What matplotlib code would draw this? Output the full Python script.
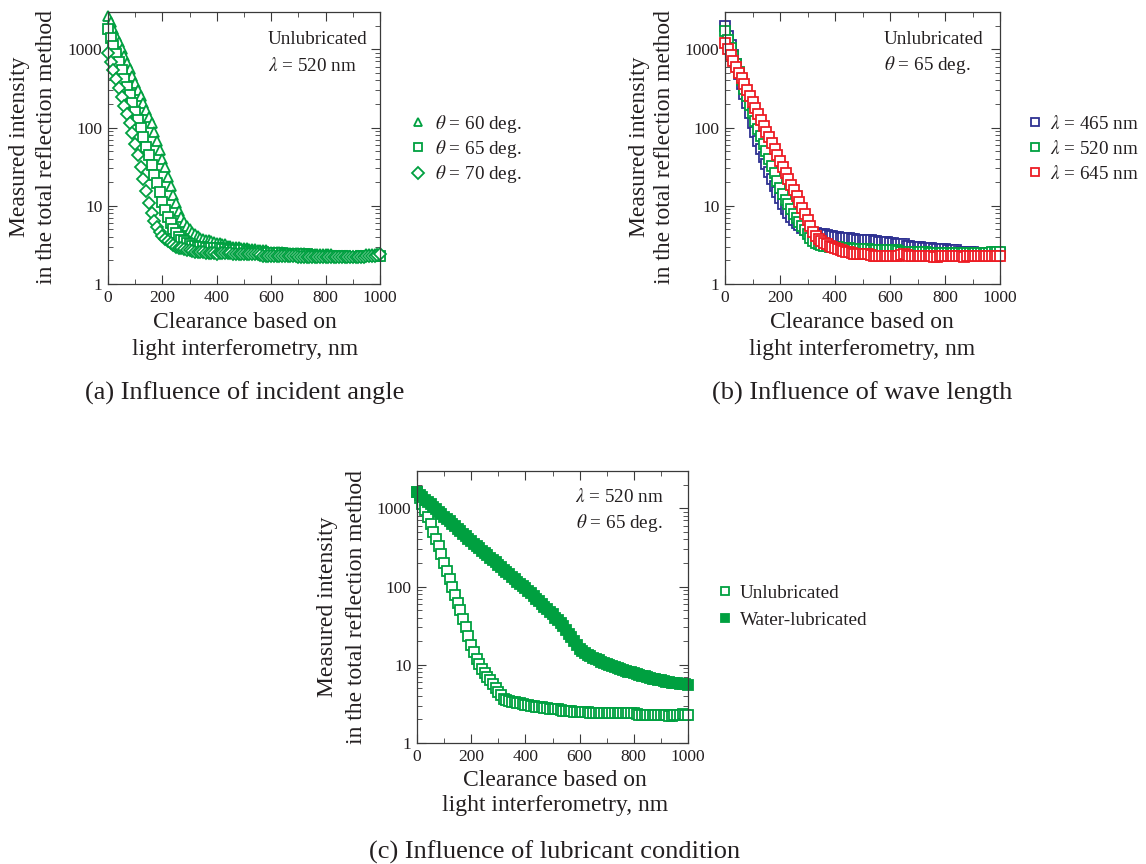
import matplotlib
matplotlib.use("Agg")
import matplotlib.pyplot as plt
from matplotlib.ticker import LogLocator, MultipleLocator, NullFormatter

plt.rcParams['font.family'] = ['Liberation Serif', 'DejaVu Serif']
plt.rcParams['mathtext.fontset'] = 'stix'

# clearance positions, nm (10 nm step)
clearance = list(range(0, 1001, 10))

# (a) incident angle, unlubricated, lambda = 520 nm
angle_60 = [2700, 2215, 1817, 1490, 1223, 1004, 823, 675, 554, 454,
            373, 306, 251, 206, 169, 138, 113, 88, 68, 52,
            40, 31, 23.5, 18, 13.9, 10.7, 8.6, 7.2, 6.2, 5.5,
            5.0, 4.6, 4.3, 4.1, 3.9, 3.8, 3.7, 3.6, 3.5, 3.4, 3.35,
            3.3, 3.2, 3.2, 3.1, 3.1, 3.0, 3.0, 3.0, 2.9, 2.9,
            2.9, 2.8, 2.8, 2.8, 2.7, 2.7, 2.7, 2.7, 2.6, 2.6,
            2.6, 2.6, 2.6, 2.6, 2.5, 2.5, 2.5, 2.5, 2.5, 2.5,
            2.5, 2.5, 2.4, 2.4, 2.4, 2.4, 2.4, 2.4, 2.4, 2.4,
            2.4, 2.4, 2.3, 2.3, 2.3, 2.3, 2.3, 2.3, 2.3, 2.3,
            2.3, 2.3, 2.3, 2.3, 2.4, 2.4, 2.4, 2.4, 2.4, 2.4]
angle_65 = [1800, 1413, 1109, 871, 684, 537, 422, 331, 260, 204,
            160, 126, 99, 75, 57, 44, 33, 25, 19.4, 14.8,
            11.2, 8.8, 7.2, 6.0, 5.1, 4.5, 4.0, 3.7, 3.5, 3.3,
            3.2, 3.1, 3.05, 3.0, 3.0, 2.95, 2.9, 2.9, 2.9, 2.85, 2.85,
            2.85, 2.8, 2.8, 2.8, 2.75, 2.7, 2.7, 2.7, 2.7, 2.7,
            2.65, 2.6, 2.6, 2.6, 2.6, 2.6, 2.55, 2.5, 2.5, 2.5,
            2.5, 2.5, 2.5, 2.5, 2.45, 2.4, 2.4, 2.4, 2.4, 2.4,
            2.4, 2.4, 2.4, 2.35, 2.3, 2.3, 2.3, 2.3, 2.3, 2.3,
            2.3, 2.3, 2.3, 2.3, 2.3, 2.3, 2.25, 2.2, 2.2, 2.2,
            2.2, 2.2, 2.25, 2.3, 2.3, 2.3, 2.3, 2.3, 2.3, 2.3]
angle_70 = [900, 695, 537, 415, 321, 248, 191, 148, 114, 86,
            62, 44, 31, 22, 15.5, 11, 8.2, 6.4, 5.3, 4.6,
            4.1, 3.8, 3.5, 3.3, 3.15, 3.0, 2.9, 2.85, 2.8, 2.75,
            2.7, 2.65, 2.6, 2.6, 2.55, 2.55, 2.5, 2.5, 2.5, 2.5, 2.45,
            2.5, 2.5, 2.5, 2.5, 2.5, 2.45, 2.4, 2.4, 2.4, 2.4,
            2.4, 2.4, 2.4, 2.4, 2.4, 2.35, 2.3, 2.3, 2.3, 2.3,
            2.3, 2.3, 2.3, 2.3, 2.3, 2.3, 2.3, 2.3, 2.25, 2.2,
            2.2, 2.2, 2.2, 2.2, 2.2, 2.2, 2.2, 2.2, 2.2, 2.2,
            2.2, 2.2, 2.2, 2.2, 2.2, 2.2, 2.2, 2.2, 2.2, 2.2,
            2.2, 2.2, 2.2, 2.2, 2.25, 2.3, 2.3, 2.3, 2.35, 2.4]

# (b) wavelength, unlubricated, theta = 65 deg
wl_465 = [2000, 1500, 1130, 850, 640, 480, 360, 270, 203, 152,
          115, 88, 68, 53, 42, 34, 27, 22, 18, 15,
          12.5, 10.6, 9.0, 8.0, 7.2, 6.5, 6.0, 5.6, 5.2, 4.9,
          4.7, 4.6, 4.5, 4.5, 4.4, 4.4, 4.3, 4.2, 4.1, 4.1, 4.0,
          4.0, 3.9, 3.9, 3.9, 3.9, 3.8, 3.8, 3.7, 3.7, 3.7,
          3.7, 3.6, 3.6, 3.5, 3.5, 3.4, 3.4, 3.4, 3.4, 3.3,
          3.3, 3.2, 3.2, 3.2, 3.2, 3.1, 3.1, 3.0, 3.0, 3.0,
          3.0, 2.9, 2.9, 2.9, 2.9, 2.8, 2.8, 2.8, 2.8, 2.8,
          2.7, 2.7, 2.7, 2.7, 2.6, 2.6, 2.6, 2.6, 2.6, 2.6,
          2.5, 2.5, 2.5, 2.5, 2.5, 2.5, 2.5, 2.5, 2.5, 2.5]
wl_520 = [1700, 1330, 1050, 830, 650, 510, 400, 315, 250, 197,
          155, 122, 97, 78, 62, 50, 40, 32, 26, 21,
          17, 14.2, 12, 10.4, 9.0, 7.9, 7.0, 6.2, 5.5, 4.9,
          4.3, 3.9, 3.5, 3.3, 3.2, 3.15, 3.1, 3.05, 3.0, 3.0, 3.0,
          2.95, 2.9, 2.9, 2.9, 2.85, 2.8, 2.8, 2.8, 2.8, 2.8,
          2.8, 2.8, 2.75, 2.7, 2.7, 2.7, 2.7, 2.7, 2.7, 2.7,
          2.7, 2.7, 2.65, 2.6, 2.6, 2.6, 2.6, 2.6, 2.6, 2.6,
          2.6, 2.6, 2.55, 2.5, 2.5, 2.5, 2.5, 2.5, 2.5, 2.5,
          2.5, 2.5, 2.5, 2.5, 2.5, 2.5, 2.5, 2.5, 2.5, 2.5,
          2.5, 2.5, 2.5, 2.5, 2.5, 2.5, 2.55, 2.55, 2.55, 2.55]
wl_645 = [1200, 1010, 850, 715, 600, 505, 425, 357, 300, 252,
          212, 178, 150, 126, 106, 89, 75, 63, 53, 44.6,
          37.5, 31.5, 26.5, 22.3, 18.7, 15.7, 13.2, 11.1, 9.4, 7.9,
          6.6, 5.5, 4.6, 4.1, 3.8, 3.5, 3.3, 3.2, 3.1, 3.0, 2.9,
          2.8, 2.7, 2.65, 2.6, 2.55, 2.5, 2.45, 2.4, 2.4, 2.4,
          2.4, 2.4, 2.35, 2.3, 2.3, 2.3, 2.3, 2.3, 2.3, 2.3,
          2.3, 2.3, 2.3, 2.35, 2.4, 2.35, 2.3, 2.3, 2.3, 2.3,
          2.3, 2.3, 2.3, 2.3, 2.25, 2.2, 2.2, 2.25, 2.3, 2.3,
          2.3, 2.3, 2.3, 2.3, 2.3, 2.25, 2.2, 2.25, 2.3, 2.3,
          2.3, 2.3, 2.3, 2.3, 2.3, 2.3, 2.3, 2.3, 2.3, 2.3]

# (c) lubricant condition, lambda = 520 nm, theta = 65 deg
unlubricated = [1600, 1350, 1150, 950, 780, 630, 500, 405, 330, 260,
                200, 158, 125, 98, 78, 62, 50, 39, 30, 23,
                18, 14.5, 12, 10.2, 8.8, 7.8, 7.0, 6.3, 5.6, 5.0,
                4.5, 4.1, 3.7, 3.5, 3.4, 3.35, 3.3, 3.25, 3.2, 3.15, 3.1,
                3.05, 3.0, 2.95, 2.9, 2.9, 2.85, 2.8, 2.8, 2.75, 2.7,
                2.7, 2.7, 2.65, 2.6, 2.6, 2.6, 2.55, 2.5, 2.5, 2.5,
                2.5, 2.5, 2.5, 2.45, 2.4, 2.4, 2.4, 2.4, 2.45, 2.45,
                2.4, 2.4, 2.4, 2.4, 2.4, 2.4, 2.4, 2.4, 2.4, 2.4,
                2.35, 2.3, 2.3, 2.3, 2.3, 2.3, 2.3, 2.3, 2.3, 2.3,
                2.3, 2.25, 2.2, 2.2, 2.25, 2.3, 2.3, 2.35, 2.3, 2.3]
water = [1600, 1490, 1390, 1290, 1200, 1120, 1040, 970, 900, 840,
         780, 730, 680, 635, 590, 550, 510, 475, 440, 410,
         380, 355, 330, 308, 288, 268, 250, 233, 218, 203,
         190, 177, 165, 154, 144, 134, 125, 116, 108, 101, 95,
         88, 82, 76, 70, 65, 60, 55, 51, 47, 44,
         40, 37, 34, 31, 28, 25, 22.5, 20, 18, 16,
         15, 14, 13.4, 12.8, 12.3, 11.8, 11.4, 11, 10.6, 10.3,
         10, 9.7, 9.4, 9.2, 8.9, 8.7, 8.4, 8.2, 8.0, 7.8,
         7.6, 7.4, 7.2, 7.1, 6.9, 6.8, 6.6, 6.5, 6.4, 6.3,
         6.2, 6.1, 6.0, 5.9, 5.9, 5.8, 5.7, 5.6, 5.6, 5.5]

GREEN = '#00a040'
BLUE = '#2e3192'
RED = '#ed1c24'
TXT = '#231f20'
FRAME = '#3a3a3a'

W, H = 1146, 864
fig = plt.figure(figsize=(W / 100, H / 100), dpi=100)


def px_axes(left, top, right, bottom):
    return fig.add_axes([left / W, 1 - bottom / H, (right - left) / W, (bottom - top) / H])


def style(ax):
    ax.set_yscale('log')
    ax.set_xlim(0, 1000)
    ax.set_ylim(1, 3000)
    ax.set_xticks([0, 200, 400, 600, 800, 1000])
    ax.xaxis.set_minor_locator(MultipleLocator(100))
    ax.set_yticks([1, 10, 100, 1000])
    ax.set_yticklabels(['1', '10', '100', '1000'])
    ax.yaxis.set_minor_locator(LogLocator(base=10, subs=range(2, 10)))
    ax.yaxis.set_minor_formatter(NullFormatter())
    ax.tick_params(which='both', direction='in', top=True, right=True,
                   colors=FRAME, labelcolor=TXT, labelsize=12.5)
    ax.tick_params(which='major', length=6.5, pad=4)
    ax.tick_params(which='minor', length=3.5)
    for s in ax.spines.values():
        s.set_color(FRAME)
        s.set_linewidth(0.9)


def px_text(x, y, s, **kw):
    fig.text(x / W, 1 - y / H, s, color=TXT, **kw)


def labels(x1, x2, cy, cx, y1, y2, caption, y_cap):
    px_text(x1, cy, 'Measured intensity', rotation=90, ha='center', va='center', fontsize=17)
    px_text(x2, cy, 'in the total reflection method', rotation=90,
            ha='center', va='center', fontsize=17)
    px_text(cx, y1, 'Clearance based on', ha='center', va='center', fontsize=17)
    px_text(cx, y2, 'light interferometry, nm', ha='center', va='center', fontsize=17)
    px_text(cx, y_cap, caption, ha='center', va='center', fontsize=19)


def legend(handles, names, x, y, spacing, pad):
    fig.legend(handles, names, loc='center left', bbox_to_anchor=(x / W, 1 - y / H),
               frameon=False, fontsize=13.8, handlelength=0.8, handletextpad=pad,
               labelspacing=spacing, borderpad=0, borderaxespad=0, numpoints=1,
               markerscale=0.9, labelcolor=TXT)


mk = dict(linestyle='none', markersize=6.5, markeredgewidth=1.3, clip_on=False)

# (a)
ax_a = px_axes(108, 12, 380, 284)
style(ax_a)
h60, = ax_a.plot(clearance, angle_60, marker='^', color=GREEN, mfc='white', **mk)
h65, = ax_a.plot(clearance, angle_65, marker='s', color=GREEN, mfc='white', **mk)
h70, = ax_a.plot(clearance, angle_70, marker='D', color=GREEN, mfc='white', **mk)
px_text(268, 40, 'Unlubricated', ha='left', va='center', fontsize=13.8)
px_text(268, 66, r'$\lambda$ = 520 nm', ha='left', va='center', fontsize=13.8)
legend([h60, h65, h70],
       [r'$\theta$ = 60 deg.', r'$\theta$ = 65 deg.', r'$\theta$ = 70 deg.'],
       410, 149, 0.18, 0.5)
labels(20, 47, 147, 245, 322, 350, '(a) Influence of incident angle', 393)

# (b)
ax_b = px_axes(725, 12, 1000, 284)
style(ax_b)
hb, = ax_b.plot(clearance, wl_465, marker='s', color=BLUE, mfc='white', **mk)
hg, = ax_b.plot(clearance, wl_520, marker='s', color=GREEN, mfc='white', **mk)
hr, = ax_b.plot(clearance, wl_645, marker='s', color=RED, mfc='white', **mk)
px_text(884, 40, 'Unlubricated', ha='left', va='center', fontsize=13.8)
px_text(884, 65, r'$\theta$ = 65 deg.', ha='left', va='center', fontsize=13.8)
legend([hb, hg, hr],
       [r'$\lambda$ = 465 nm', r'$\lambda$ = 520 nm', r'$\lambda$ = 645 nm'],
       1027, 149, 0.36, 0.4)
labels(640, 665, 147, 862, 322, 350, '(b) Influence of wave length', 393)

# (c)
ax_c = px_axes(417, 471, 688, 743)
style(ax_c)
hu, = ax_c.plot(clearance, unlubricated, marker='s', color=GREEN, mfc='white', **mk)
hw, = ax_c.plot(clearance, water, marker='s', color=GREEN, mfc=GREEN, **mk)
px_text(575, 497, r'$\lambda$ = 520 nm', ha='left', va='center', fontsize=13.8)
px_text(576, 523, r'$\theta$ = 65 deg.', ha='left', va='center', fontsize=13.8)
legend([hu, hw], ['Unlubricated', 'Water-lubricated'], 717, 606.5, 0.48, 0.4)
labels(328, 356, 607, 555, 780, 806, '(c) Influence of lubricant condition', 852)

fig.savefig('out.png', dpi=100)
